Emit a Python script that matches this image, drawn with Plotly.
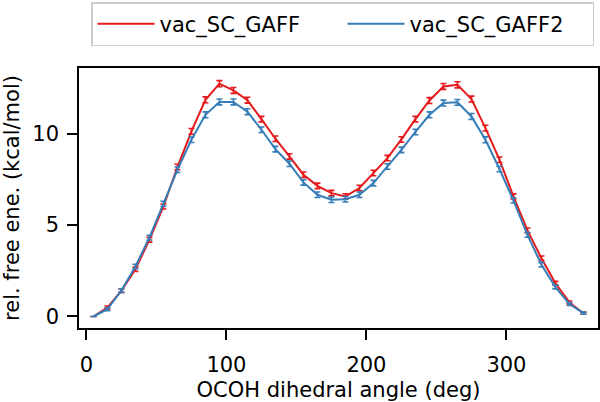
import plotly.graph_objects as go

angles = [5, 15, 25, 35, 45, 55, 65, 75, 85, 95, 105, 115, 125, 135, 145, 155, 165, 175,
          185, 195, 205, 215, 225, 235, 245, 255, 265, 275, 285, 295, 305, 315, 325, 335, 345, 355]

gaff = [0.0, 0.49, 1.42, 2.59, 4.20, 6.02, 8.18, 10.13, 11.86, 12.74, 12.37, 11.84,
        10.80, 9.73, 8.76, 7.76, 7.15, 6.75, 6.57, 7.03, 7.85, 8.67, 9.69, 10.80,
        11.82, 12.59, 12.68, 11.90, 10.31, 8.58, 6.57, 4.71, 3.19, 1.82, 0.77, 0.18]
gaff_err = [0.0, 0.08, 0.10, 0.12, 0.13, 0.14, 0.15, 0.16, 0.16, 0.17, 0.16, 0.16,
            0.15, 0.15, 0.15, 0.15, 0.15, 0.15, 0.15, 0.15, 0.15, 0.15, 0.15, 0.15,
            0.16, 0.16, 0.17, 0.16, 0.16, 0.15, 0.14, 0.13, 0.12, 0.10, 0.08, 0.06]

gaff2 = [0.0, 0.40, 1.42, 2.74, 4.32, 6.17, 8.03, 9.67, 11.04, 11.74, 11.74, 11.21,
         10.22, 9.16, 8.36, 7.34, 6.66, 6.39, 6.42, 6.66, 7.30, 8.21, 9.12, 10.10,
         11.04, 11.68, 11.72, 10.95, 9.67, 8.07, 6.35, 4.47, 2.83, 1.61, 0.68, 0.18]
gaff2_err = [0.0, 0.08, 0.10, 0.12, 0.13, 0.14, 0.15, 0.15, 0.16, 0.16, 0.16, 0.16,
             0.15, 0.15, 0.15, 0.15, 0.15, 0.15, 0.15, 0.15, 0.15, 0.15, 0.15, 0.15,
             0.16, 0.16, 0.16, 0.16, 0.16, 0.15, 0.14, 0.13, 0.12, 0.10, 0.08, 0.06]

x_ticks = [0, 100, 200, 300]
y_ticks = [0, 5, 10]

RED = "#e41a1c"
BLUE = "#377eb8"
FONT = "DejaVu Sans"

fig = go.Figure()
for name, ys, errs, col in [("vac_SC_GAFF", gaff, gaff_err, RED),
                            ("vac_SC_GAFF2", gaff2, gaff2_err, BLUE)]:
    fig.add_trace(go.Scatter(
        x=angles, y=ys, name=name, mode="lines",
        line=dict(color=col, width=2),
        error_y=dict(type="data", array=errs, visible=True, color=col,
                     thickness=1.6, width=3),
    ))

axis_common = dict(
    showline=True, linecolor="black", linewidth=1.6, mirror=True,
    ticks="outside", ticklen=10, tickwidth=1.6, tickcolor="black",
    showgrid=False, zeroline=False, automargin=False,
    tickfont=dict(family=FONT, size=21, color="black"),
)

fig.update_xaxes(range=[-5.3, 365.4], tickvals=x_ticks, ticklabelstandoff=7,
                 title=dict(text="OCOH dihedral angle (deg)",
                            font=dict(family=FONT, size=21, color="black"),
                            standoff=10),
                 **axis_common)
fig.update_yaxes(range=[-0.63, 13.6], tickvals=y_ticks, ticklabelstandoff=4,
                 title=dict(text="rel. free ene. (kcal/mol)",
                            font=dict(family=FONT, size=21, color="black"),
                            standoff=8),
                 **axis_common)

fig.update_layout(
    width=600, height=402,
    margin=dict(l=79, r=2, t=68, b=74, autoexpand=False),
    plot_bgcolor="white", paper_bgcolor="white",
    font=dict(family=FONT, size=21, color="black"),
    showlegend=True,
    legend=dict(orientation="h", xref="container", yref="container",
                x=91 / 600, xanchor="left", y=1 - 2 / 402, yanchor="top",
                bordercolor="#cccccc", borderwidth=1.5, bgcolor="white",
                font=dict(family=FONT, size=21, color="black"),
                itemwidth=57, entrywidth=178, entrywidthmode="pixels",
                tracegroupgap=0),
)

fig.write_html("out.html",
               config={"displayModeBar": False},
               post_script="document.body.style.margin='0';document.body.style.overflow='hidden';")
